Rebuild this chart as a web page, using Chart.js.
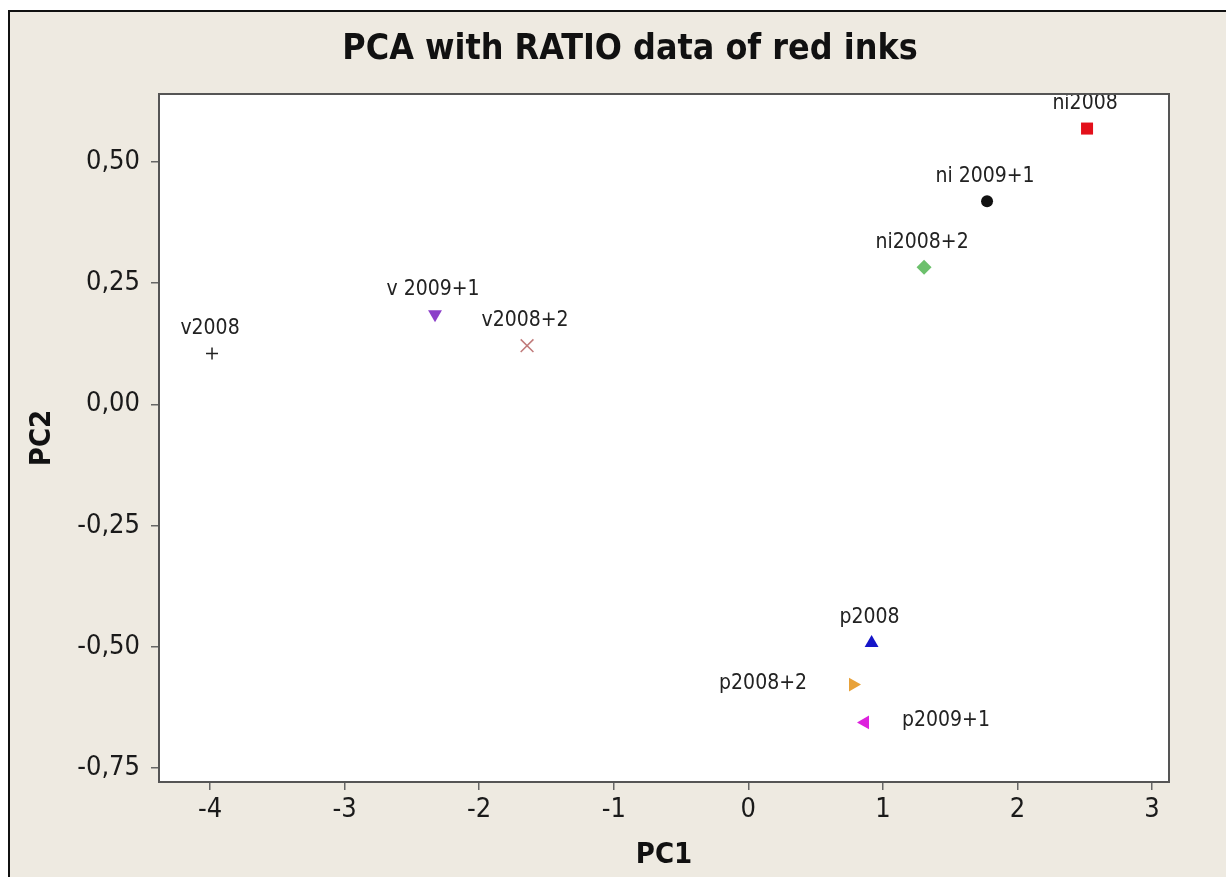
<!DOCTYPE html>
<html lang="en">
<head>
<meta charset="utf-8" />
<title>PCA with RATIO data of red inks</title>
<script src="https://cdn.jsdelivr.net/npm/chart.js@4.4.1/dist/chart.umd.min.js"></script>
<style>
    html, body { margin: 0; padding: 0; background: #ffffff; overflow: hidden; }
    .frame {
        position: absolute; left: 8px; top: 10px; right: 0; bottom: 0;
        background: #eeeae1;
        border-left: 2px solid #111;
        border-top: 2px solid #111;
    }
    canvas { position: absolute; left: 0; top: 0; }
</style>
</head>
<body>
<div class="frame"></div>
<canvas id="pcaChart" width="1226" height="877"></canvas>
<script>
// samples and their scores
const sampleNames = ["v2008", "v 2009+1", "v2008+2", "ni2008", "ni 2009+1", "ni2008+2", "p2008", "p2008+2", "p2009+1"];
const pc1Values = [-3.985, -2.328, -1.644, 2.517, 1.774, 1.306, 0.916, 0.778, 0.867];
const pc2Values = [0.105, 0.186, 0.121, 0.569, 0.419, 0.283, -0.492, -0.578, -0.656];

// axis ticks
const xTickValues = [-4, -3, -2, -1, 0, 1, 2, 3];
const xTickLabels = ["-4", "-3", "-2", "-1", "0", "1", "2", "3"];
const yTickValues = [0.5, 0.25, 0, -0.25, -0.5, -0.75];
const yTickLabels = ["0,50", "0,25", "0,00", "-0,25", "-0,50", "-0,75"];

// marker look, one per sample
const markerStyles = ["cross", "triangle", "crossRot", "rect", "circle", "rectRot", "triangle", "triangle", "triangle"];
const markerRotations = [0, 180, 0, 0, 0, 0, 0, 90, -90];
const markerColors = ["#222222", "#8b3fc9", "#c07a7a", "#e3101b", "#111111", "#6cc06c", "#1515c8", "#e8a23a", "#dd22dd"];
const markerSizes = [6, 8, 9, 8.5, 6, 7.5, 8, 8, 8];
const labelSides = ["above", "above", "above", "above", "above", "above", "above", "left", "right"];

const FONT = '"DejaVu Sans Condensed", "DejaVu Sans", sans-serif';

const datasets = sampleNames.map((name, i) => ({
    label: name,
    data: [{ x: pc1Values[i], y: pc2Values[i] }],
    pointStyle: markerStyles[i],
    rotation: markerRotations[i],
    radius: markerSizes[i],
    backgroundColor: markerColors[i],
    borderColor: markerColors[i],
    borderWidth: markerStyles[i].startsWith("cross") ? 1.5 : 0,
}));

// white plot area with a grey frame
const plotFrame = {
    id: "plotFrame",
    beforeDraw(chart) {
        const { ctx, chartArea: a } = chart;
        ctx.save();
        ctx.fillStyle = "#ffffff";
        ctx.fillRect(a.left, a.top, a.right - a.left, a.bottom - a.top);
        ctx.restore();
    },
    afterDraw(chart) {
        const { ctx, chartArea: a } = chart;
        ctx.save();
        ctx.strokeStyle = "#555555";
        ctx.lineWidth = 2;
        ctx.strokeRect(a.left, a.top, a.right - a.left, a.bottom - a.top);
        ctx.restore();
    },
};

// sample names next to the markers
const pointLabels = {
    id: "pointLabels",
    afterDatasetsDraw(chart) {
        const ctx = chart.ctx;
        ctx.save();
        ctx.font = "21px " + FONT;
        ctx.fillStyle = "#222222";
        ctx.textBaseline = "middle";
        chart.data.datasets.forEach((ds, i) => {
            const pt = chart.getDatasetMeta(i).data[0];
            const side = labelSides[i];
            if (side === "left") {
                ctx.textAlign = "right";
                ctx.fillText(ds.label, pt.x - 46, pt.y - 1);
            } else if (side === "right") {
                ctx.textAlign = "left";
                ctx.fillText(ds.label, pt.x + 37, pt.y - 2);
            } else {
                ctx.textAlign = "center";
                ctx.fillText(ds.label, pt.x - 2, pt.y - 25);
            }
        });
        ctx.restore();
    },
};

new Chart(document.getElementById("pcaChart"), {
    type: "scatter",
    data: { datasets },
    options: {
        responsive: false,
        animation: false,
        layout: { padding: { left: 34, right: 0, top: 0, bottom: 0 } },
        plugins: {
            legend: { display: false },
            tooltip: { enabled: false },
            title: {
                display: true,
                text: "PCA with RATIO data of red inks",
                color: "#111111",
                font: { family: FONT, size: 35.5, weight: "bold", lineHeight: 1.2 },
                padding: { top: 28, bottom: 23.4 },
            },
        },
        scales: {
            x: {
                type: "linear",
                min: -4.379,
                max: 3.126,
                afterBuildTicks: (scale) => { scale.ticks = xTickValues.map((v) => ({ value: v })); },
                afterFit: (scale) => { scale.height = 95; },
                ticks: {
                    color: "#1a1a1a",
                    font: { family: FONT, size: 27 },
                    padding: 4,
                    callback: (v, i) => xTickLabels[i],
                },
                grid: { drawOnChartArea: false, drawTicks: true, tickLength: 8, color: "#666666", lineWidth: 1.5 },
                border: { display: false },
                title: {
                    display: true,
                    text: "PC1",
                    color: "#111111",
                    font: { family: FONT, size: 29, weight: "bold", lineHeight: 1.2 },
                    padding: { bottom: 4 },
                },
            },
            y: {
                type: "linear",
                min: -0.779,
                max: 0.6403,
                afterBuildTicks: (scale) => { scale.ticks = yTickValues.map((v) => ({ value: v })); },
                afterFit: (scale) => { scale.width = 125; },
                ticks: {
                    color: "#1a1a1a",
                    font: { family: FONT, size: 27 },
                    padding: 11,
                    callback: (v, i) => yTickLabels[i],
                },
                grid: { drawOnChartArea: false, drawTicks: true, tickLength: 8, color: "#666666", lineWidth: 1.5 },
                border: { display: false },
                title: {
                    display: true,
                    text: "PC2",
                    color: "#111111",
                    font: { family: FONT, size: 29, weight: "bold", lineHeight: 1.2 },
                    padding: { top: -9 },
                },
            },
            // empty margin on the right of the plot
            yRight: {
                type: "linear",
                position: "right",
                display: true,
                afterFit: (scale) => { scale.width = 57; },
                ticks: { display: false },
                grid: { display: false },
                border: { display: false },
            },
        },
    },
    plugins: [plotFrame, pointLabels],
});
</script>
</body>
</html>
